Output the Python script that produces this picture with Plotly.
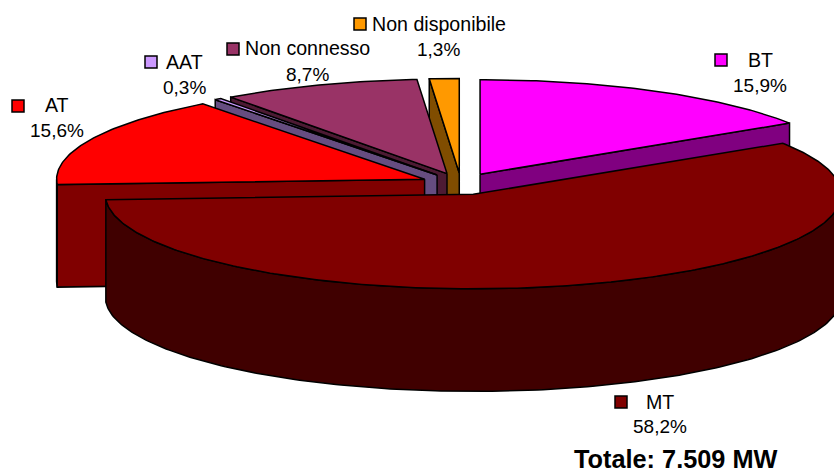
import numpy as np
import plotly.graph_objects as go

# --- data (clockwise from 12 o'clock)
categories = ["BT", "MT", "AT", "AAT", "Non connesso", "Non disponibile"]
values = [15.9, 58.2, 15.6, 0.3, 8.7, 1.3]
total_label = "Totale: 7.509 MW"

# --- style
top_colors = ["#FF00FF", "#800000", "#FF0000", "#CC99FF", "#993366", "#FF9900"]
side_colors = ["#800080", "#400000", "#800000", "#664D80", "#4D1A33", "#804D00"]
draw_order = ["BT", "Non disponibile", "Non connesso", "AAT", "AT", "MT"]

W, H = 834, 472
CX, CY = 460.9, 183.9      # pie centre
RX, RY = 368.0, 94.5       # tilted radii
EX, EY = 40.0, 11.0        # explosion distance on the tilted plane
DEPTH = 102.5              # extrusion

# label placement: key x/y, name x/y, percent x/y
label_pos = {
    "BT": ((721, 60), (760, 60), (760, 85)),
    "MT": ((621, 402), (660, 402), (660, 426)),
    "AT": ((18, 106), (57, 105), (57, 130)),
    "AAT": ((151, 62), (184.5, 62), (184, 87)),
    "Non connesso": ((233, 49), (307, 48), (307, 74)),
    "Non disponibile": ((360, 24), (439, 24), (438, 49)),
}

total = sum(values)
edges = np.concatenate([[0], np.cumsum(values)]) / total * 2 * np.pi


def pt(theta, ox, oy):
    return ox + RX * np.sin(theta), oy - RY * np.cos(theta)


fig = go.Figure()


def poly(xs, ys, color):
    fig.add_trace(go.Scatter(
        x=np.append(xs, xs[0]), y=np.append(ys, ys[0]), mode="lines", fill="toself",
        fillcolor=color, line=dict(color="black", width=1.5), hoverinfo="skip",
        showlegend=False))


for name in draw_order:
    i = categories.index(name)
    a0, a1 = edges[i], edges[i + 1]
    mid = (a0 + a1) / 2
    ox, oy = CX + EX * np.sin(mid), CY - EY * np.cos(mid)
    side, top = side_colors[i], top_colors[i]

    # radial cut faces that look towards the viewer
    for ang, visible in ((a0, np.sin(a0) < -1e-9), (a1, np.sin(a1) > 1e-9)):
        if visible:
            rx, ry = pt(ang, ox, oy)
            poly(np.array([ox, rx, rx, ox]), np.array([oy, ry, ry + DEPTH, oy + DEPTH]), side)

    # outer wall on the front half
    lo, hi = max(a0, np.pi / 2), min(a1, 3 * np.pi / 2)
    if hi > lo:
        th = np.linspace(lo, hi, 200)
        xs, ys = pt(th, ox, oy)
        poly(np.concatenate([xs, xs[::-1]]), np.concatenate([ys, ys[::-1] + DEPTH]), side)

    # top surface
    th = np.linspace(a0, a1, max(8, int((a1 - a0) * 80)))
    xs, ys = pt(th, ox, oy)
    poly(np.concatenate([[ox], xs]), np.concatenate([[oy], ys]), top)

# legend keys and labels
for i, name in enumerate(categories):
    key, nm, pc = label_pos[name]
    fig.add_trace(go.Scatter(
        x=[key[0]], y=[key[1]], mode="markers", hoverinfo="skip", showlegend=False,
        marker=dict(symbol="square", size=12, color=top_colors[i],
                    line=dict(color="black", width=1.5))))
    pct = f"{values[i]:.1f}%".replace(".", ",")
    for (x, y), txt, size in ((nm, name, 19.6), (pc, pct, 19)):
        fig.add_annotation(x=x, y=y, text=txt, showarrow=False, xanchor="center", yanchor="middle",
                           font=dict(family="Liberation Sans", size=size, color="black"))

fig.add_annotation(x=675, y=459, text=f"<b>{total_label}</b>", showarrow=False,
                   xanchor="center", yanchor="middle",
                   font=dict(family="Liberation Sans", size=25.3, color="black"))

fig.update_layout(
    width=W, height=H, margin=dict(l=0, r=0, t=0, b=0),
    paper_bgcolor="white", plot_bgcolor="white", showlegend=False,
    xaxis=dict(range=[0, W], visible=False, fixedrange=True),
    yaxis=dict(range=[H, 0], visible=False, fixedrange=True),
)
fig.write_html("out.html", config={"displayModeBar": False},
               post_script="document.body.style.margin='0';document.documentElement.style.overflow='hidden';")
